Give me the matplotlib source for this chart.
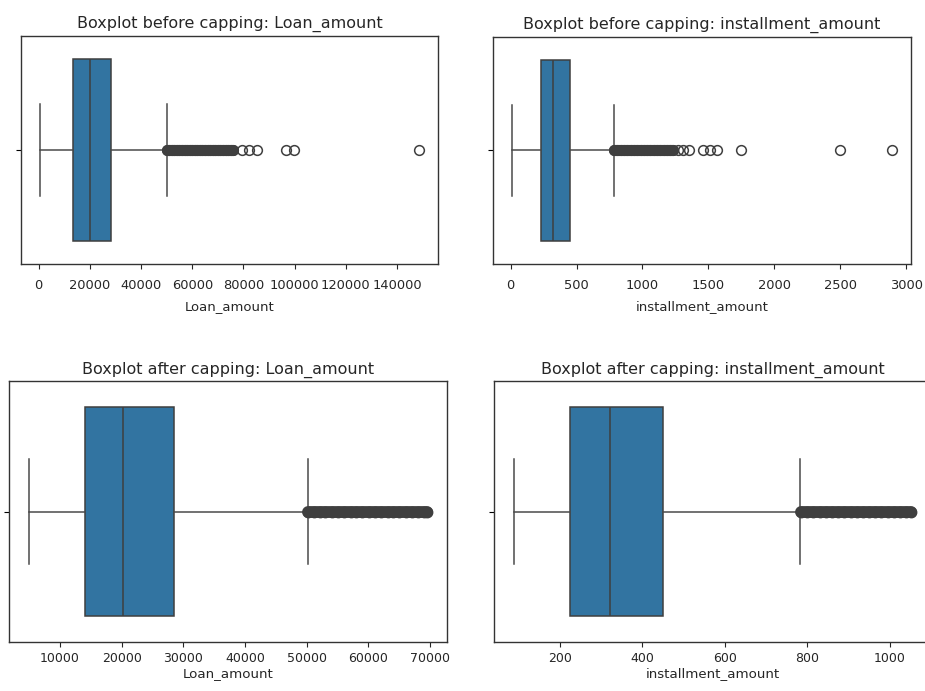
import matplotlib
matplotlib.use('Agg')
import matplotlib.pyplot as plt

# values (box stats per panel)
titles = ['Boxplot before capping: Loan_amount', 'Boxplot before capping: installment_amount',
          'Boxplot after capping: Loan_amount', 'Boxplot after capping: installment_amount']
xlabels = ['Loan_amount', 'installment_amount', 'Loan_amount', 'installment_amount']

# whislo, q1, median, q3, whishi
loan_before = [500, 13500, 20100, 28400, 50000]
inst_before = [10, 228, 322, 451, 781]
loan_after = [4950, 14000, 20200, 28500, 50150]
inst_after = [88, 225, 322, 450, 783]

# outliers that sit apart (open circles)
loan_before_out = [79400, 82000, 85100, 96800, 99900, 148600]
inst_before_out = [1270, 1310, 1355, 1462, 1512, 1563, 1745, 2500, 2893]
loan_after_out = []
inst_after_out = []

# outliers packed into a solid band
loan_before_band = [50100, 51000, 52100, 53000, 54200, 55000, 56100, 57000, 58000, 59100,
                    60000, 61200, 62000, 63100, 64000, 65000, 66200, 67000, 68100, 69000,
                    70200, 71000, 72000, 73100, 74000, 75000, 76100]
inst_before_band = [785, 810, 835, 860, 885, 910, 935, 960, 985, 1010, 1035, 1060, 1085,
                    1110, 1135, 1160, 1185, 1210, 1233]
loan_after_band = [50200, 51200, 52100, 53000, 54100, 55000, 56000, 57100, 58000, 59000,
                   60100, 61000, 62000, 63100, 64000, 65000, 66100, 67000, 68000, 69000, 69500]
inst_after_band = [785, 800, 815, 830, 845, 860, 875, 890, 905, 920, 935, 950, 965, 980,
                   995, 1010, 1025, 1040, 1052]

stats = [loan_before, inst_before, loan_after, inst_after]
outs = [loan_before_out, inst_before_out, loan_after_out, inst_after_out]
bands = [loan_before_band, inst_before_band, loan_after_band, inst_after_band]

W, H = 925, 691
# axes boxes in pixels: left, top, right, bottom
boxes = [(21, 36, 438, 264), (493, 37, 911, 264),
         (9, 381, 447, 642), (494, 381, 931, 642)]

box_color = '#3274a1'
line_color = '#3f3f3f'
text_color = '#262626'

fig = plt.figure(figsize=(W / 100, H / 100), dpi=100)

for i in range(4):
    l, t, r, b = boxes[i]
    ax = fig.add_axes([l / W, 1 - b / H, (r - l) / W, (b - t) / H])
    top_row = i < 2
    ms = 7 if top_row else 7.5
    s = stats[i]
    st = dict(whislo=s[0], q1=s[1], med=s[2], q3=s[3], whishi=s[4], fliers=outs[i])
    ax.bxp([st], positions=[0], widths=0.8, capwidths=0.4, orientation='horizontal',
           patch_artist=True,
           boxprops=dict(facecolor=box_color, edgecolor=line_color, linewidth=1.1),
           medianprops=dict(color=line_color, linewidth=1.1),
           whiskerprops=dict(color='#4a4a4a', linewidth=1.1),
           capprops=dict(color='#4a4a4a', linewidth=1.1),
           flierprops=dict(marker='o', markerfacecolor='none', markeredgecolor=line_color,
                           markersize=ms, markeredgewidth=1.1, linestyle='none'))
    # dense outliers overlap into a solid band
    ax.plot(bands[i], [0] * len(bands[i]), 'o-', color=line_color, markersize=ms,
            markeredgewidth=1.0, linewidth=ms + 1.0, solid_capstyle='round', zorder=3)
    ax.set_ylim(0.5, -0.5)
    ax.set_yticks([0])
    ax.set_yticklabels([])
    ax.margins(x=0.05)
    if top_row:
        ax.tick_params(axis='x', labelsize=9.4, colors=text_color, pad=7)
        ax.set_xlabel(xlabels[i], fontsize=9.5, color=text_color, labelpad=6)
        ax.set_title(titles[i], fontsize=11.5, color=text_color, pad=6)
    else:
        ax.tick_params(axis='x', labelsize=9, colors=text_color, pad=4)
        ax.set_xlabel(xlabels[i], fontsize=9.6, color=text_color, labelpad=1)
        ax.set_title(titles[i], fontsize=11.5, color=text_color, pad=5)
    ax.tick_params(axis='y', length=3.5)
    for sp in ax.spines.values():
        sp.set_color('#333333')
        sp.set_linewidth(1.0)

fig.savefig('out.png', dpi=100)
